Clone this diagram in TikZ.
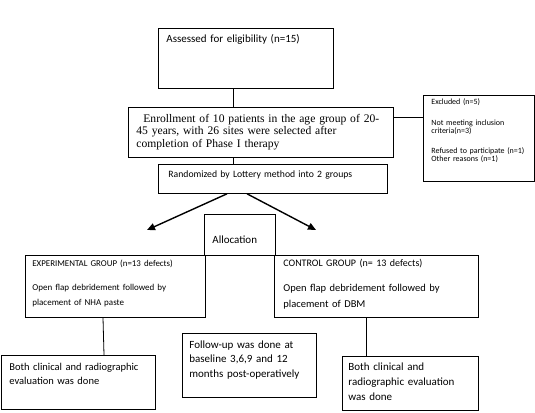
\documentclass[tikz,border=0pt]{standalone}
\usepackage{fontspec}
\setmainfont{Carlito}
\newfontfamily\timesfont{Liberation Serif}
\usetikzlibrary{arrows.meta}

\begin{document}
\begin{tikzpicture}[x=1pt, y=-1pt,
  flowbox/.style={draw, line width=0.8pt, rectangle, anchor=north west, align=left, inner ysep=0pt},
  link/.style={line width=0.8pt},
  split/.style={line width=1.4pt, -{Triangle[length=8pt,width=7pt]}}]
\useasboundingbox (0,0) rectangle (535,412);
\node[flowbox, inner xsep=8pt, text width=159pt, text height=14pt, text depth=46pt, font=\fontsize{11}{13}\selectfont] (assess) at (158,28) {Assessed for eligibility (n=15)};
\node[flowbox, inner xsep=8pt, text width=249pt, text height=15pt, text depth=35pt, font=\timesfont\fontsize{11.6}{12.5}\selectfont] (enrol) at (128,107) {\hspace*{7pt}Enrollment of 10 patients in the age group of 20-\\45 years, with 26 sites were selected after\\completion of Phase I therapy};
\node[flowbox, inner xsep=8pt, text width=95pt, text height=9pt, text depth=77pt, font=\fontsize{8}{7.8}\selectfont] (excl) at (423,95) {Excluded (n=5)\\[13.1pt]Not meeting inclusion\\criteria(n=3)\\[12.6pt]Refused to participate (n=1)\\Other reasons (n=1)};
\node[flowbox, inner xsep=10pt, text width=209pt, text height=13pt, text depth=16pt, font=\fontsize{9.7}{12}\selectfont] (rand) at (158,164) {Randomized by Lottery method into 2 groups};
\node[flowbox, inner xsep=8pt, text width=55pt, text height=29pt, text depth=12pt, font=\fontsize{11}{13}\selectfont] (alloc) at (204,214) {Allocation};
\node[flowbox, inner xsep=7pt, text width=166pt, text height=11pt, text depth=51pt, font=\fontsize{9}{14.5}\selectfont] (exper) at (25,255) {{\fontsize{8.9}{14.5}\selectfont EXPERIMENTAL GROUP (n=13 defects)}\\[10pt]Open flap debridement followed by\\placement of NHA paste};
\node[flowbox, inner xsep=9pt, text width=186pt, text height=11pt, text depth=51pt, font=\fontsize{10.5}{16.5}\selectfont] (ctrl) at (274,255) {{\fontsize{10}{16.5}\selectfont CONTROL GROUP (n= 13 defects)}\\[8.5pt]Open flap debridement followed by\\placement of DBM};
\node[flowbox, inner xsep=8pt, text width=138pt, text height=15pt, text depth=39pt, font=\fontsize{10.5}{14.5}\selectfont] (evalL) at (1,355) {Both clinical and radiographic\\evaluation was done};
\node[flowbox, inner xsep=7pt, text width=120pt, text height=15pt, text depth=49pt, font=\fontsize{11}{14.5}\selectfont] (follow) at (182,333) {Follow-up was done at\\baseline 3,6,9 and 12\\months post-operatively};
\node[flowbox, inner xsep=6pt, text width=124pt, text height=14pt, text depth=40pt, font=\fontsize{11}{15}\selectfont] (evalR) at (342,356) {Both clinical and\\radiographic evaluation\\was done};
\coordinate (exparrow) at (147,230);
\coordinate (ctrlarrow) at (316,230);
\draw[link] ([xshift=75pt]assess.south west) -- ([xshift=105pt]enrol.north west);
\draw[link] ([xshift=105pt]enrol.south west) -- ([xshift=75pt]rand.north west);
\draw[link] ([yshift=-10pt]enrol.north east) -- ([yshift=-10pt]enrol.north east -| excl.west);
\draw[split] ([xshift=69pt]rand.south west) -- (exparrow);
\draw[split] ([xshift=89pt]rand.south west) -- (ctrlarrow);
\draw[link] ([xshift=78pt]exper.south west) -- ([xshift=103pt]evalL.north west);
\draw[link] ([xshift=92pt]ctrl.south west) -- ([xshift=24pt]evalR.north west);
\end{tikzpicture}
\end{document}
